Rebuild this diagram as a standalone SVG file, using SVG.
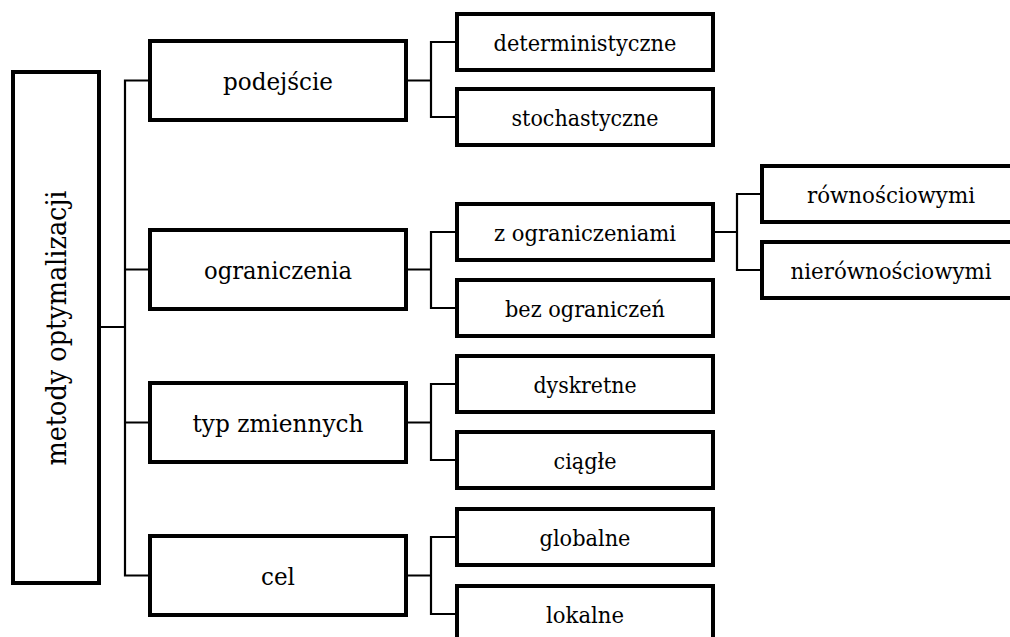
<svg xmlns="http://www.w3.org/2000/svg" width="1010" height="637" viewBox="0 0 1010 637">
<style>
.box{fill:#fff;stroke:#000;stroke-width:4}
.con{fill:none;stroke:#000;stroke-width:2.2}
.lbl{font-family:'DejaVu Serif',serif;fill:#000;text-anchor:middle}
.t0{font-size:27px}
.t1{font-size:25px}
.t2{font-size:23px}
.t3{font-size:22.5px}
</style>
<rect width="1010" height="637" fill="#fff"/>
<g id="connectors">
<path class="con" d="M99,327H125M150,80.5H125V575.5H150M125,269.5H150M125,422.5H150"/>
<path class="con" d="M406,80.5H431M457,42H431V117H457"/>
<path class="con" d="M406,269.5H431M457,232H431V308H457"/>
<path class="con" d="M406,422.5H431M457,384H431V460H457"/>
<path class="con" d="M406,575.5H431M457,537H431V614H457"/>
<path class="con" d="M713,232H737M762,194H737V270H762"/>
</g>
<g id="root"><rect class="box" x="13" y="72" width="86" height="511"/><text class="lbl t0" transform="translate(66,328) rotate(-90)" textLength="275" lengthAdjust="spacingAndGlyphs">metody optymalizacji</text></g>
<g id="podejscie"><rect class="box" x="150" y="41" width="256" height="79"/><text class="lbl t1" x="278" y="90" textLength="110" lengthAdjust="spacingAndGlyphs">podejście</text></g>
<g id="ograniczenia"><rect class="box" x="150" y="230" width="256" height="79"/><text class="lbl t1" x="278" y="279" textLength="148" lengthAdjust="spacingAndGlyphs">ograniczenia</text></g>
<g id="typ"><rect class="box" x="150" y="383" width="256" height="79"/><text class="lbl t1" x="278" y="432" textLength="171" lengthAdjust="spacingAndGlyphs">typ zmiennych</text></g>
<g id="cel"><rect class="box" x="150" y="536" width="256" height="79"/><text class="lbl t1" x="278" y="585" textLength="34" lengthAdjust="spacingAndGlyphs">cel</text></g>
<g id="deterministyczne"><rect class="box" x="457" y="14" width="256" height="56"/><text class="lbl t2" x="585" y="51" textLength="183" lengthAdjust="spacingAndGlyphs">deterministyczne</text></g>
<g id="stochastyczne"><rect class="box" x="457" y="89" width="256" height="56"/><text class="lbl t2" x="585" y="126" textLength="147" lengthAdjust="spacingAndGlyphs">stochastyczne</text></g>
<g id="z_ograniczeniami"><rect class="box" x="457" y="204" width="256" height="56"/><text class="lbl t2" x="585" y="241" textLength="182" lengthAdjust="spacingAndGlyphs">z ograniczeniami</text></g>
<g id="bez_ograniczen"><rect class="box" x="457" y="280" width="256" height="56"/><text class="lbl t2" x="585" y="317" textLength="160" lengthAdjust="spacingAndGlyphs">bez ograniczeń</text></g>
<g id="dyskretne"><rect class="box" x="457" y="356" width="256" height="56"/><text class="lbl t2" x="585" y="393" textLength="103" lengthAdjust="spacingAndGlyphs">dyskretne</text></g>
<g id="ciagle"><rect class="box" x="457" y="432" width="256" height="56"/><text class="lbl t2" x="585" y="469" textLength="63" lengthAdjust="spacingAndGlyphs">ciągłe</text></g>
<g id="globalne"><rect class="box" x="457" y="509" width="256" height="56"/><text class="lbl t2" x="585" y="546" textLength="91" lengthAdjust="spacingAndGlyphs">globalne</text></g>
<g id="lokalne"><rect class="box" x="457" y="586" width="256" height="56"/><text class="lbl t2" x="585" y="623" textLength="78" lengthAdjust="spacingAndGlyphs">lokalne</text></g>
<g id="rownosciowymi"><rect class="box" x="762" y="166" width="258" height="56"/><text class="lbl t3" x="891" y="203" textLength="168" lengthAdjust="spacingAndGlyphs">równościowymi</text></g>
<g id="nierownosciowymi"><rect class="box" x="762" y="242" width="258" height="56"/><text class="lbl t3" x="891" y="279" textLength="201" lengthAdjust="spacingAndGlyphs">nierównościowymi</text></g>
</svg>
